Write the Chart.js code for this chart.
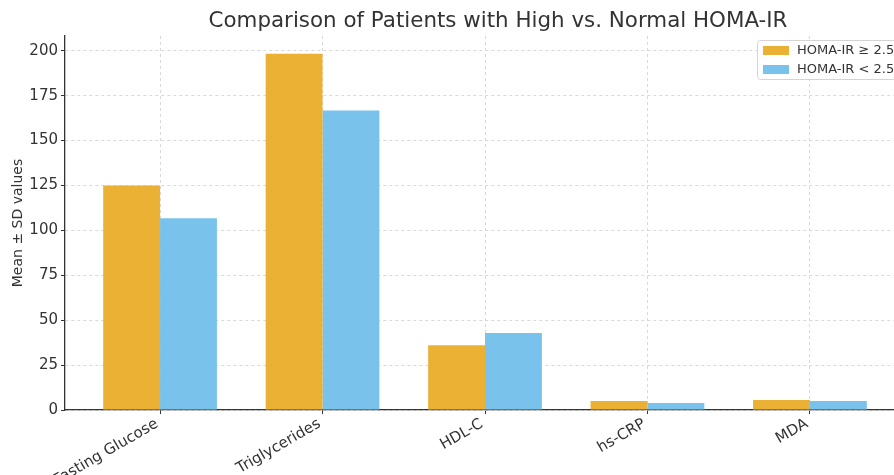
<!DOCTYPE html>
<html>
<head>
<meta charset="utf-8">
<script src="https://cdn.jsdelivr.net/npm/chart.js@4.4.0/dist/chart.umd.min.js"></script>
<style>
  html, body { margin: 0; padding: 0; background: #fff; overflow: hidden; }
  #wrap { width: 910px; height: 475px; }
</style>
</head>
<body>
<div id="wrap"><canvas id="homaChart"></canvas></div>
<script>
// data
var categories = ["Fasting Glucose", "Triglycerides", "HDL-C", "hs-CRP", "MDA"];
var highHoma = [125, 198.3, 36, 5, 5.6];
var normalHoma = [106.7, 166.7, 42.8, 3.9, 5];
var seriesLabels = ["HOMA-IR \u2265 2.5", "HOMA-IR < 2.5"];
var yTicks = [0, 25, 50, 75, 100, 125, 150, 175, 200];
var chartTitle = 'Comparison of Patients with High vs. Normal HOMA-IR';

var orange = "#EBB134";
var blue = "#78C2EC";
var textColor = "#333";
var font = "'DejaVu Sans', sans-serif";

function toPoints(values) {
  return values.map(function (v, i) { return { x: i, y: v }; });
}

// title centred over the axes + matplotlib-style legend in upper right
var decorations = {
  id: 'decorations',
  afterDraw: function (chart) {
    var c = chart.ctx;
    c.save();
    c.font = "21.4px " + font;
    c.fillStyle = textColor;
    c.textAlign = "center";
    c.textBaseline = "alphabetic";
    c.fillText(chartTitle, 498, 27);

    var x0 = 757, y0 = 40, w = 150, h = 39;
    c.textAlign = "left";
    c.fillStyle = "rgba(255,255,255,0.85)";
    c.strokeStyle = "#d4d4d4";
    c.lineWidth = 1;
    c.beginPath();
    c.roundRect(x0 + 0.5, y0 + 0.5, w, h, 3);
    c.fill();
    c.stroke();
    c.font = "13px " + font;
    c.textBaseline = "middle";
    chart.data.datasets.forEach(function (ds, i) {
      var cy = y0 + 10 + i * 19;
      c.fillStyle = ds.backgroundColor;
      c.fillRect(x0 + 6, cy - 4, 26, 9);
      c.fillStyle = textColor;
      c.fillText(ds.label, x0 + 40, cy + 1);
    });
    c.restore();
  }
};

var gridOpts = {
  color: '#d9d9d9',
  offset: false,
  tickColor: '#333',
  tickBorderDash: [],
  tickLength: 4
};

var ctx = document.getElementById("homaChart");
var homaChart = new Chart(ctx, {
  type: 'bar',
  data: {
    labels: categories,
    datasets: [{
        label: seriesLabels[0],
        data: toPoints(highHoma),
        backgroundColor: orange,
        categoryPercentage: 0.7,
        barPercentage: 1.0
      }, {
        label: seriesLabels[1],
        data: toPoints(normalHoma),
        backgroundColor: blue,
        categoryPercentage: 0.7,
        barPercentage: 1.0
      }
    ]
  },
  options: {
    responsive: true,
    maintainAspectRatio: false,
    animation: false,
    layout: { padding: { left: 0, right: 5, top: 36, bottom: 0 } },
    plugins: {
      legend: { display: false },
      tooltip: { enabled: false },
      title: { display: false }
    },
    scales: {
      x: {
        type: 'linear',
        offset: false,
        min: -0.585,
        max: 4.585,
        afterBuildTicks: function (scale) {
          scale.ticks = categories.map(function (c, i) { return { value: i }; });
        },
        afterFit: function (scale) { scale.height = 65; },
        ticks: {
          autoSkip: false,
          minRotation: 30,
          maxRotation: 30,
          color: textColor,
          font: { family: font, size: 15 },
          padding: 1,
          labelOffset: -3,
          callback: function (v) { return categories[v]; }
        },
        grid: gridOpts,
        border: { display: true, color: '#333', width: 1.3, dash: [3, 3] }
      },
      y: {
        min: 0,
        max: 208.2,
        afterBuildTicks: function (scale) {
          scale.ticks = yTicks.map(function (v) { return { value: v }; });
        },
        afterFit: function (scale) { scale.width = 65; },
        title: {
          display: true,
          text: 'Mean \u00b1 SD values',
          color: textColor,
          font: { family: font, size: 14 },
          padding: { top: 10, bottom: 4 }
        },
        ticks: {
          color: textColor,
          font: { family: font, size: 15 },
          padding: 3
        },
        grid: gridOpts,
        border: { display: true, color: '#333', width: 1.3, dash: [3, 3] }
      }
    }
  },
  plugins: [decorations]
});
</script>
</body>
</html>
